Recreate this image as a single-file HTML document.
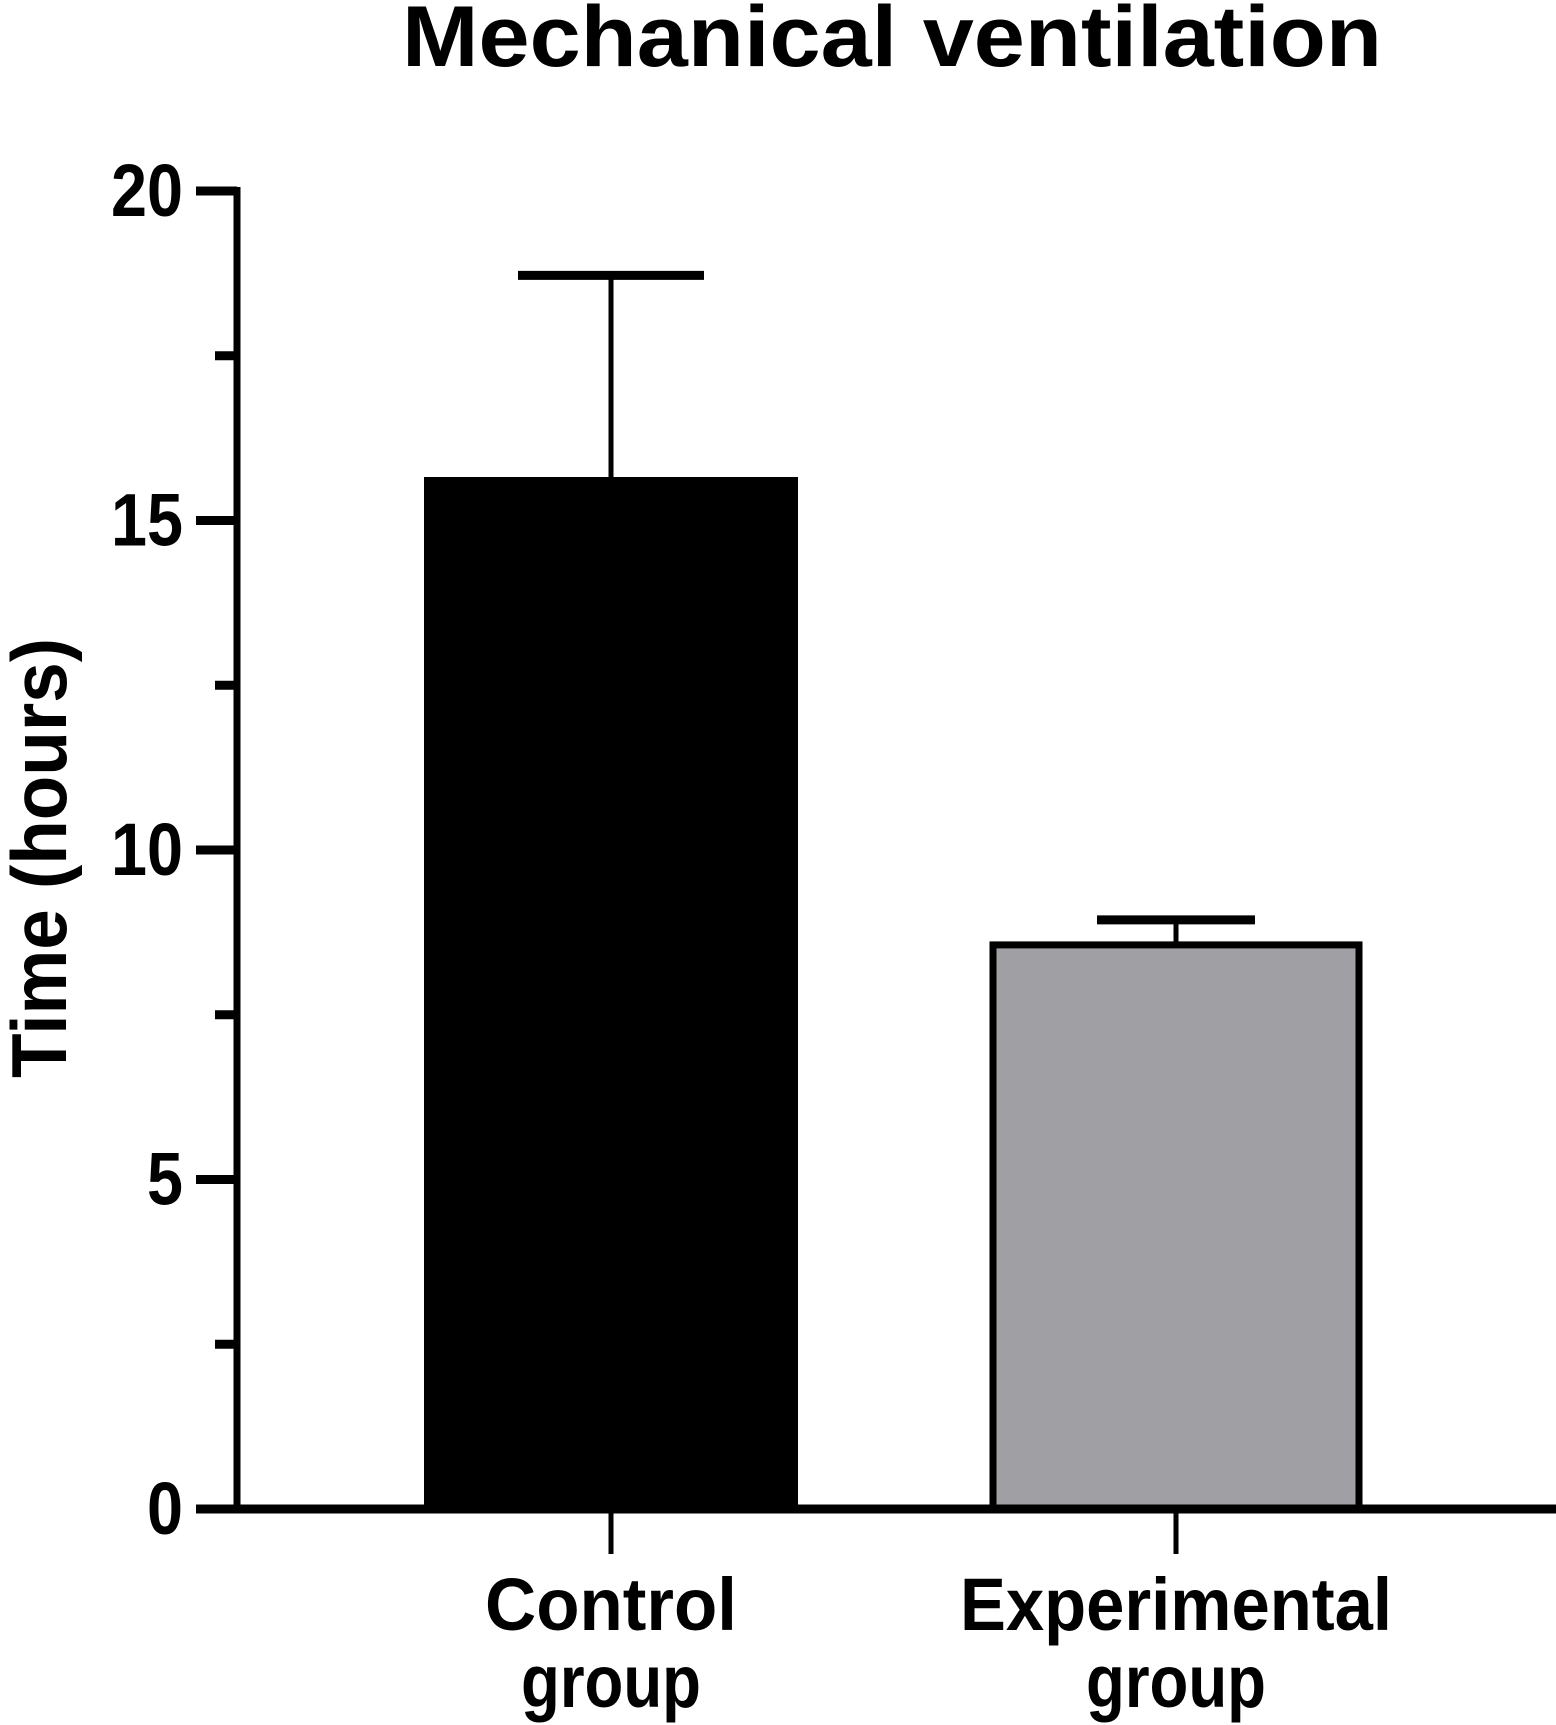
<!DOCTYPE html>
<html><head><meta charset="utf-8"><style>
html,body{margin:0;padding:0;background:#fff}
svg{display:block}
text{font-family:"Liberation Sans",Arial,sans-serif;font-weight:bold;fill:#000}
</style></head><body>
<svg id="chart" width="1556" height="1725" viewBox="0 0 1556 1725">
<text x="892" y="66" font-size="86" text-anchor="middle" textLength="980" lengthAdjust="spacingAndGlyphs">Mechanical ventilation</text>
<text transform="translate(66,858) rotate(-90)" font-size="78" text-anchor="middle" textLength="440" lengthAdjust="spacingAndGlyphs">Time (hours)</text>
<g id="plot"></g>
</svg>
<script>
const categories = ["Control group", "Experimental group"];
const means = [15.66, 8.56];
const errors = [3.06, 0.38];
const yTicks = [0, 5, 10, 15, 20];
const yTickLabels = ["0", "5", "10", "15", "20"];
const minorTicks = [2.5, 7.5, 12.5, 17.5];

const NS = "http://www.w3.org/2000/svg";
const g = document.getElementById('plot');
const y0 = 1509, y20 = 191, axX = 237;
function y(v){ return y0 - (v/20)*(y0-y20); }
const centers = [611, 1176];
const barW = [374, 366];
function x(i){ return centers[i]; }
function mk(tag, attrs){ const e=document.createElementNS(NS,tag); for(const k in attrs) e.setAttribute(k,attrs[k]); g.appendChild(e); return e; }

means.forEach((m,i)=>{
  const r = mk('rect',{x:x(i)-barW[i]/2,y:y(m),width:barW[i],height:y0-y(m),fill:i===0?'#000':'#a0a0a4',stroke:'#000','stroke-width':i===0?0:7});
  
  
  const l = mk('line',{x1:x(i),x2:x(i),y1:y(m),y2:y(m+errors[i]),stroke:'#000','stroke-width':5});
  
  
  const c = mk('line',{x1:x(i)-(i===0?93:79),x2:x(i)+(i===0?93:79),y1:y(m+errors[i]),y2:y(m+errors[i]),stroke:'#000','stroke-width':9});
  
  
  const t = mk('line',{x1:x(i),x2:x(i),y1:y0,y2:y0+45,stroke:'#000','stroke-width':5});
  
  
  const words = categories[i].split(' ');
  words.forEach((w,j)=>{
    const tx = mk('text',{x:x(i),y:1630+j*77,'font-size':74,'text-anchor':'middle',textLength:w.length*36,lengthAdjust:'spacingAndGlyphs'});
    tx.textContent = w;
    
    
  });
});
const ya = mk('line',{x1:axX,x2:axX,y1:y20-4,y2:y0+4,stroke:'#000','stroke-width':7});


const xa = mk('line',{x1:198,x2:1556,y1:y0,y2:y0,stroke:'#000','stroke-width':9});


yTicks.forEach((v,i)=>{
  const t = mk('line',{x1:196,x2:axX,y1:y(v),y2:y(v),stroke:'#000','stroke-width':9});
  
  
  const lab = yTickLabels[i];
  const tx = mk('text',{x:183,y:y(v)+25,'font-size':74,'text-anchor':'end',textLength:lab.length*36,lengthAdjust:'spacingAndGlyphs'});
  tx.textContent = lab;
  
  
});
minorTicks.forEach(v=>{
  const t = mk('line',{x1:215,x2:axX,y1:y(v),y2:y(v),stroke:'#000','stroke-width':9});
  
  
});
</script>
</body></html>
